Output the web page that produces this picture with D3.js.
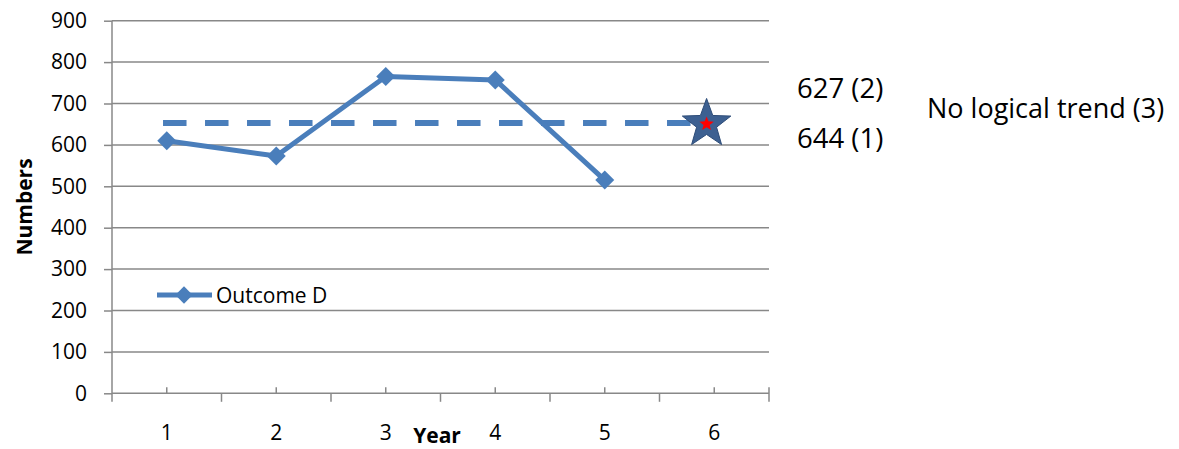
<!DOCTYPE html>
<html><head><meta charset="utf-8">
<script src="https://cdn.jsdelivr.net/npm/d3@7"></script>
<style>
html,body{margin:0;padding:0;background:#fff;}
svg{display:block;font-family:"Open Sans",sans-serif;}
</style></head>
<body>
<svg id="chart" width="1179" height="449"></svg>
<script>
// ---- data ----
const years = [1, 2, 3, 4, 5, 6];
const outcomeD = [610, 573, 765, 757, 515];
const yTicks = [0, 100, 200, 300, 400, 500, 600, 700, 800, 900];
const forecastValue = 653;
const forecastStart = 0.966;
const forecastEnd = 5.93;
const annotations = ["627 (2)", "644 (1)", "No logical trend (3)"];
const seriesName = "Outcome D";

(function () {
const svg = d3.select("#chart");
const pl = 112, pr = 769, pt = 20.7, pb = 393.3;
const blue = "#4a7ebb", grid = "#888888";

const x = d3.scaleBand().domain(years).range([pl, pr]).paddingInner(0).paddingOuter(0);
const xl = d3.scaleLinear().domain([0.5, 6.5]).range([pl, pr]);
const y = d3.scaleLinear().domain([0, 900]).range([pb, pt]);

// gridlines
svg.append("g").selectAll("line").data(yTicks.filter(d => d > 0)).join("line")
  .attr("x1", pl).attr("x2", pr)
  .attr("y1", d => y(d)).attr("y2", d => y(d))
  .attr("stroke", grid).attr("stroke-width", 1.5);

// y axis
const yAxis = d3.axisLeft(y).tickValues(yTicks).tickSize(8).tickPadding(17);
const gy = svg.append("g").attr("transform", `translate(${pl},0)`).call(yAxis);
gy.select(".domain").attr("stroke", grid).attr("stroke-width", 1.5)
  .attr("d", `M0,${pt}V${pb + 8.5}`);
gy.selectAll(".tick line").attr("stroke", grid).attr("stroke-width", 1.5);
gy.selectAll(".tick text").attr("font-size", 21).attr("fill", "#000")
  .attr("font-family", "Open Sans, sans-serif");

// x axis line
svg.append("line").attr("x1", pl).attr("x2", pr).attr("y1", pb).attr("y2", pb)
  .attr("stroke", grid).attr("stroke-width", 1.5);
// major ticks at band boundaries (below)
const bounds = years.map(d => x(d)).concat([x(6) + x.bandwidth()]);
svg.append("g").selectAll("line").data(bounds.slice(1)).join("line")
  .attr("x1", d => d).attr("x2", d => d)
  .attr("y1", (d, i) => i === bounds.length - 2 ? pb - 6 : pb).attr("y2", pb + 8.5)
  .attr("stroke", grid).attr("stroke-width", 1.5);
// minor ticks at band centres (above)
svg.append("g").selectAll("line").data(years).join("line")
  .attr("x1", d => x(d) + x.bandwidth() / 2).attr("x2", d => x(d) + x.bandwidth() / 2)
  .attr("y1", pb - 6).attr("y2", pb)
  .attr("stroke", grid).attr("stroke-width", 1.5);
// x labels
svg.append("g").selectAll("text").data(years).join("text")
  .attr("x", d => x(d) + x.bandwidth() / 2).attr("y", 440)
  .attr("text-anchor", "middle").attr("font-size", 21).attr("fill", "#000")
  .text(d => d);

// axis titles
svg.append("text").attr("transform", "translate(32,207) rotate(-90)")
  .attr("text-anchor", "middle").attr("font-size", 21).attr("font-weight", "bold")
  .text("Numbers");
svg.append("text").attr("x", 437).attr("y", 443)
  .attr("text-anchor", "middle").attr("font-size", 21).attr("font-weight", "bold")
  .text("Year");

// dashed forecast line
svg.append("line")
  .attr("x1", xl(forecastStart)).attr("x2", xl(forecastEnd))
  .attr("y1", y(forecastValue)).attr("y2", y(forecastValue))
  .attr("stroke", blue).attr("stroke-width", 6).attr("stroke-dasharray", "23.5,18.5");

// series line
const line = d3.line().x((d, i) => xl(years[i])).y(d => y(d));
svg.append("path").datum(outcomeD).attr("d", line)
  .attr("fill", "none").attr("stroke", blue).attr("stroke-width", 5).attr("stroke-linejoin", "round");
svg.append("g").selectAll("path").data(outcomeD).join("path")
  .attr("transform", (d, i) => `translate(${xl(years[i])},${y(d)}) rotate(45)`)
  .attr("d", d3.symbol().type(d3.symbolSquare).size(180))
  .attr("fill", blue);

// star
function starPath(R, r) {
  const pts = [];
  for (let i = 0; i < 10; i++) {
    const a = -Math.PI / 2 + i * Math.PI / 5;
    const rad = i % 2 === 0 ? R : r;
    pts.push([rad * Math.cos(a), rad * Math.sin(a)]);
  }
  return "M" + pts.map(p => p.join(",")).join("L") + "Z";
}
const sg = svg.append("g").attr("transform", `translate(${xl(forecastEnd)},${y(forecastValue) + 1})`);
sg.append("path").attr("d", starPath(25.5, 10.5)).attr("fill", "#3d6091").attr("stroke", "#2d4c78").attr("stroke-width", 1);
sg.append("path").attr("d", starPath(7.5, 3.2)).attr("fill", "#ff0000");

// annotations
svg.append("text").attr("x", 797).attr("y", 98).attr("font-size", 27.5).text(annotations[0]);
svg.append("text").attr("x", 797).attr("y", 148).attr("font-size", 27.5).text(annotations[1]);
svg.append("text").attr("x", 927).attr("y", 118).attr("font-size", 27).text(annotations[2]);

// legend
const lg = svg.append("g");
lg.append("line").attr("x1", 157).attr("x2", 212).attr("y1", 295).attr("y2", 295)
  .attr("stroke", blue).attr("stroke-width", 5);
lg.append("path").attr("transform", "translate(184,295) rotate(45)")
  .attr("d", d3.symbol().type(d3.symbolSquare).size(150)).attr("fill", blue);
lg.append("text").attr("x", 216).attr("y", 303).attr("font-size", 21).text(seriesName);
})();
</script>
</body></html>
